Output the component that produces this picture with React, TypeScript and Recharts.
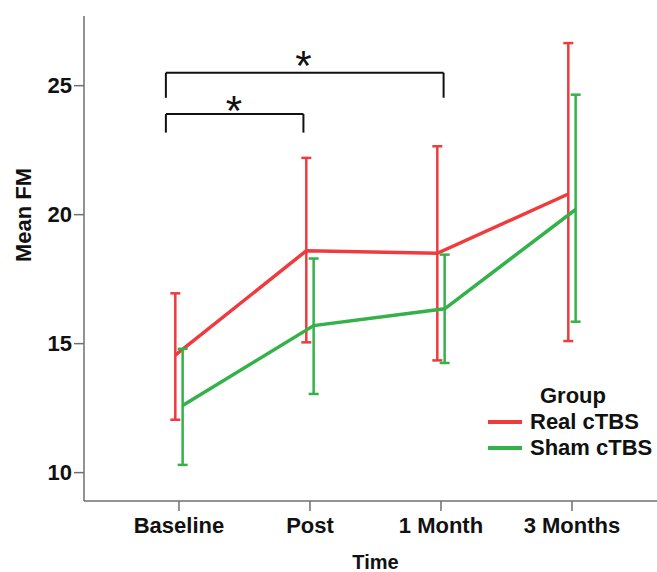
import {
  LineChart,
  Line,
  XAxis,
  YAxis,
  ErrorBar,
  ReferenceLine,
  ReferenceDot,
} from 'recharts'

document.body.style.margin = '0'

const categories = ['Baseline', 'Post', '1 Month', '3 Months']

const realMean = [14.55, 18.6, 18.5, 20.8]
const realLow = [12.05, 15.05, 14.35, 15.1]
const realHigh = [16.95, 22.2, 22.65, 26.65]

const shamMean = [12.6, 15.7, 16.35, 20.2]
const shamLow = [10.3, 13.05, 14.25, 15.85]
const shamHigh = [14.8, 18.3, 18.45, 24.65]

const yTicks = [10, 15, 20, 25]

// significance brackets (x in category index units, y in FM units)
const brackets = [
  { from: -0.1, to: 0.95, top: 23.9, leg: 23.18, starX: 0.42, starY: 24.26 },
  { from: -0.1, to: 2.02, top: 25.5, leg: 24.53, starX: 0.95, starY: 26.0 },
]

const RED = '#ef3a3e'
const GREEN = '#34b24a'
const FONT = '"Liberation Sans", Arial, sans-serif'
const DODGE = 0.028

const buildSeries = (mean: number[], low: number[], high: number[], shift: number) =>
  categories.map((name, i) => ({
    name,
    x: i + shift,
    mean: mean[i],
    err: [mean[i] - low[i], high[i] - mean[i]],
  }))

const realData = buildSeries(realMean, realLow, realHigh, -DODGE)
const shamData = buildSeries(shamMean, shamLow, shamHigh, DODGE)

const Star = (props: any) => {
  const { viewBox } = props
  return (
    <text
      x={viewBox.x}
      y={viewBox.y}
      textAnchor="middle"
      fontFamily={FONT}
      fontSize={42}
      fill="#111"
      dy={20}
    >
      *
    </text>
  )
}

export default function App() {
  return (
    <div style={{ position: 'relative', width: 657, height: 572, background: '#fff', fontFamily: FONT }}>
      <LineChart
        width={657}
        height={572}
        margin={{ top: 16, right: 0, bottom: 0, left: 0 }}
      >
        <XAxis
          type="number"
          dataKey="x"
          domain={[-0.725, 3.649]}
          ticks={[0, 1, 2, 3]}
          tickFormatter={(v: number) => categories[v] ?? ''}
          allowDataOverflow
          height={71}
          stroke="#6f6f6f"
          strokeWidth={1.5}
          tickSize={10}
          tickMargin={6}
          tick={{ fill: '#111', fontSize: 22, fontWeight: 'bold', fontFamily: FONT }}
          label={{
            value: 'Time',
            position: 'insideBottom',
            offset: 3,
            fill: '#111',
            fontSize: 20,
            fontWeight: 'bold',
            fontFamily: FONT,
            dx: 5,
          }}
        />
        <YAxis
          type="number"
          domain={[8.9, 27.7]}
          ticks={yTicks}
          allowDataOverflow
          width={84}
          stroke="#6f6f6f"
          strokeWidth={1.5}
          tickSize={10}
          tickMargin={2}
          tick={{ fill: '#111', fontSize: 22, fontWeight: 'bold', fontFamily: FONT }}
          label={{
            content: () => (
              <text
                x={23}
                y={215}
                transform="rotate(-90 23 215)"
                textAnchor="middle"
                dominantBaseline="central"
                fontSize={22}
                fontWeight="bold"
                fontFamily={FONT}
                fill="#111"
              >
                Mean FM
              </text>
            ),
          }}
        />
        {brackets.map((b, i) => (
          <ReferenceLine
            key={`l${i}`}
            ifOverflow="visible"
            stroke="#111"
            strokeWidth={2}
            segment={[{ x: b.from, y: b.leg }, { x: b.from, y: b.top }]}
          />
        ))}
        {brackets.map((b, i) => (
          <ReferenceLine
            key={`t${i}`}
            ifOverflow="visible"
            stroke="#111"
            strokeWidth={2}
            segment={[{ x: b.from, y: b.top }, { x: b.to, y: b.top }]}
          />
        ))}
        {brackets.map((b, i) => (
          <ReferenceLine
            key={`r${i}`}
            ifOverflow="visible"
            stroke="#111"
            strokeWidth={2}
            segment={[{ x: b.to, y: b.top }, { x: b.to, y: b.leg }]}
          />
        ))}
        {brackets.map((b, i) => (
          <ReferenceDot
            key={`s${i}`}
            x={b.starX}
            y={b.starY}
            r={0}
            ifOverflow="visible"
            label={<Star />}
          />
        ))}
        <Line
          data={realData}
          dataKey="mean"
          stroke={RED}
          strokeWidth={3.5}
          dot={false}
          activeDot={false}
          isAnimationActive={false}
        >
          <ErrorBar dataKey="err" stroke={RED} strokeWidth={2.5} width={5} direction="y" isAnimationActive={false} />
        </Line>
        <Line
          data={shamData}
          dataKey="mean"
          stroke={GREEN}
          strokeWidth={3.5}
          dot={false}
          activeDot={false}
          isAnimationActive={false}
        >
          <ErrorBar dataKey="err" stroke={GREEN} strokeWidth={2.5} width={5} direction="y" isAnimationActive={false} />
        </Line>
      </LineChart>
      <div
        style={{
          position: 'absolute',
          left: 488,
          top: 383,
          fontSize: 22,
          fontWeight: 'bold',
          color: '#111',
          lineHeight: '26px',
        }}
      >
        <div style={{ paddingLeft: 52 }}>Group</div>
        {[
          { label: 'Real cTBS', color: RED },
          { label: 'Sham cTBS', color: GREEN },
        ].map(item => (
          <div key={item.label} style={{ display: 'flex', alignItems: 'center' }}>
            <span style={{ display: 'inline-block', width: 34, height: 3.5, background: item.color, marginRight: 8 }} />
            <span>{item.label}</span>
          </div>
        ))}
      </div>
    </div>
  )
}
